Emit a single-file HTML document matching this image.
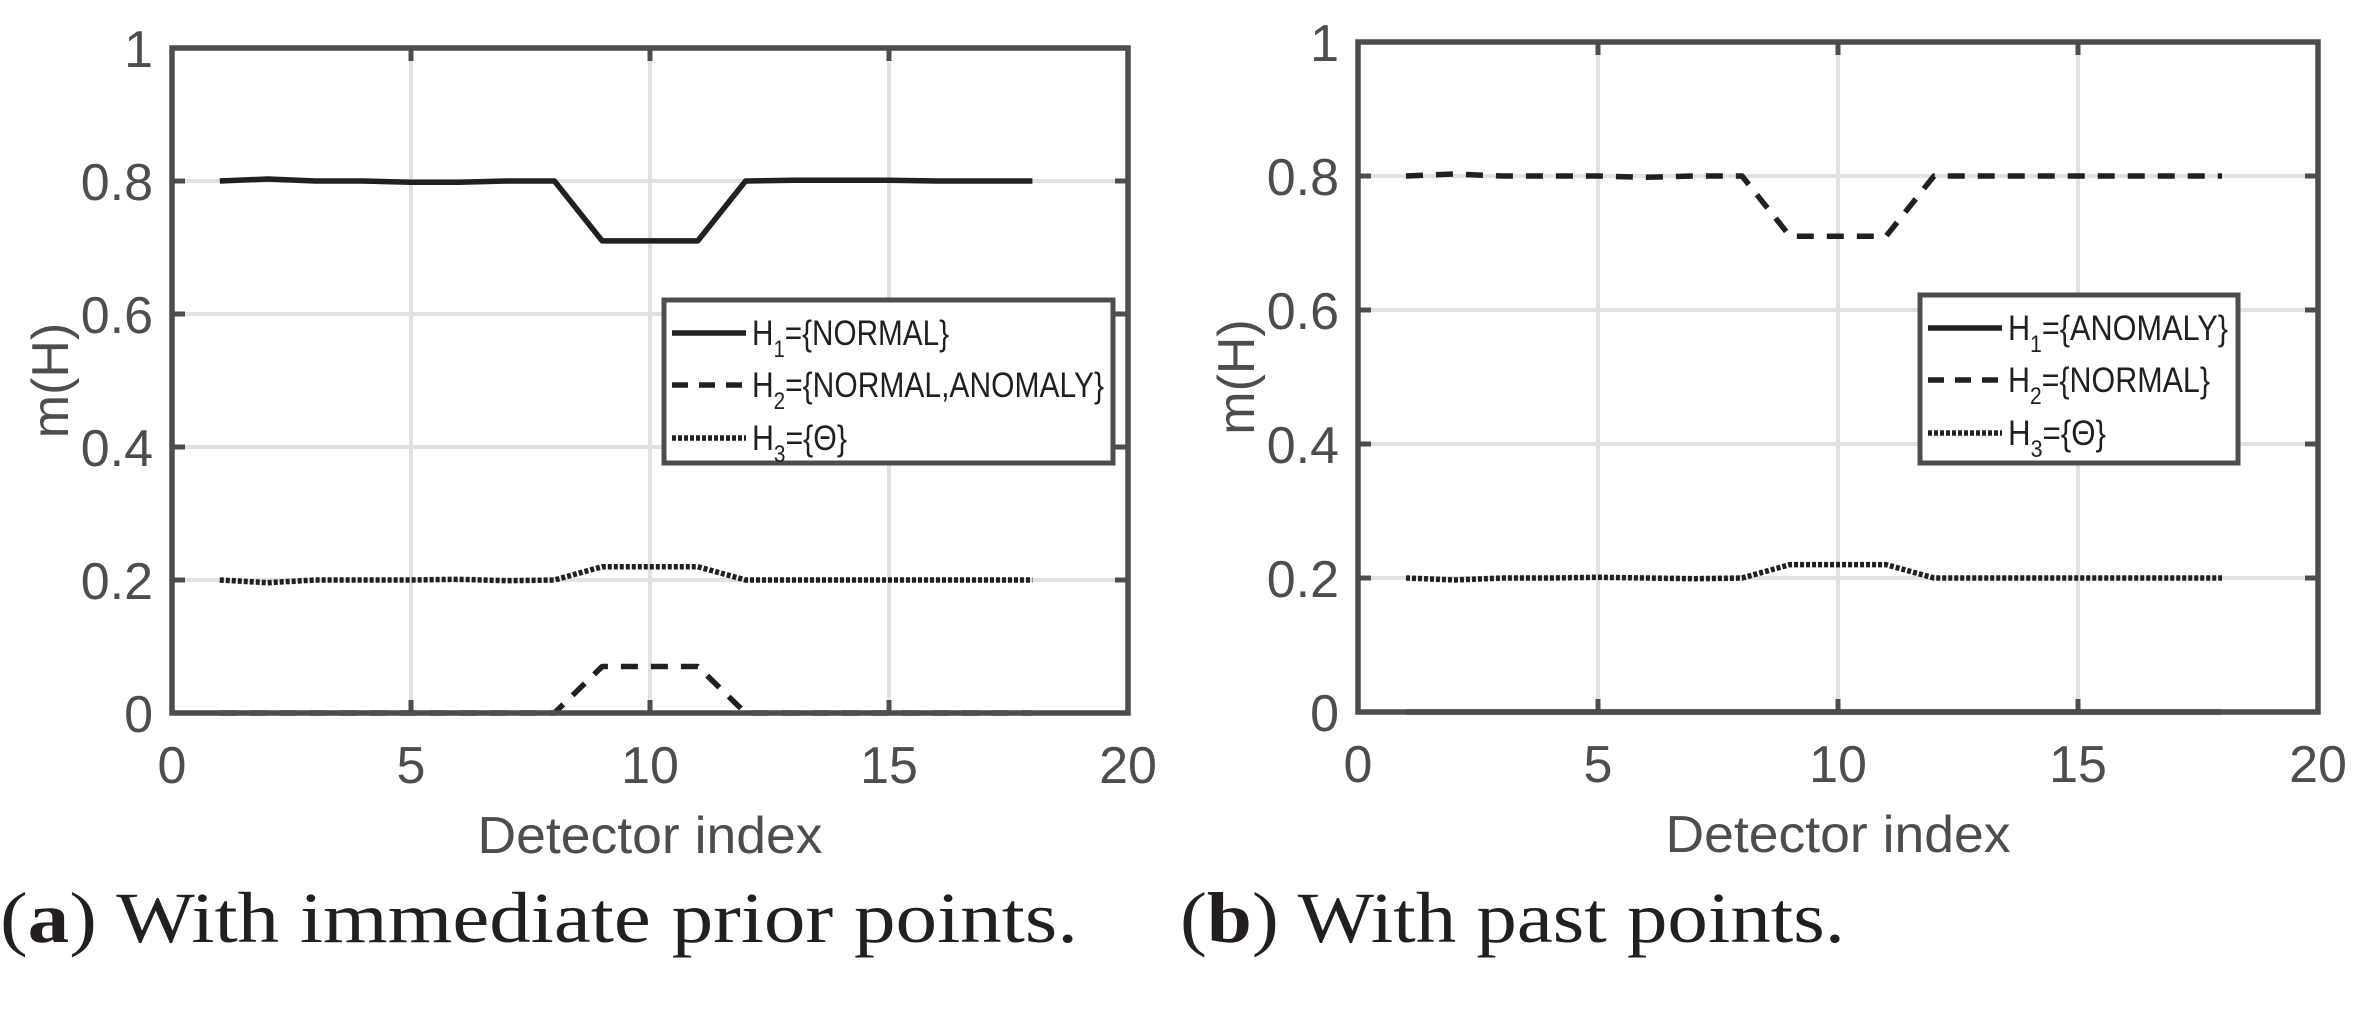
<!DOCTYPE html>
<html><head><meta charset="utf-8"><style>
html,body{margin:0;padding:0;background:#fff;}
svg{display:block;}
</style></head><body>
<svg id="fig" width="2370" height="1018" viewBox="0 0 2370 1018" xmlns="http://www.w3.org/2000/svg">
<g id="pa"></g>
<g id="pb"></g>
<text x="0" y="942" font-family="Liberation Serif, serif" font-size="72" fill="#231f20" textLength="1078" lengthAdjust="spacingAndGlyphs">(<tspan font-weight="bold">a</tspan>) With immediate prior points.</text>
<text x="1180" y="942" font-family="Liberation Serif, serif" font-size="72" fill="#231f20" textLength="665" lengthAdjust="spacingAndGlyphs">(<tspan font-weight="bold">b</tspan>) With past points.</text>
</svg>
<script>
const xIdx = [1,2,3,4,5,6,7,8,9,10,11,12,13,14,15,16,17,18];
const aH1 = [0.80,0.803,0.80,0.80,0.798,0.798,0.80,0.80,0.71,0.71,0.71,0.80,0.801,0.801,0.801,0.80,0.80,0.80];
const aH2 = [0,0,0,0,0,0,0,0,0.07,0.07,0.07,0,0,0,0,0,0,0];
const aH3 = [0.20,0.196,0.20,0.20,0.20,0.201,0.199,0.20,0.22,0.22,0.22,0.20,0.20,0.20,0.20,0.20,0.20,0.20];
const bH1 = [0,0,0,0,0,0,0,0,0,0,0,0,0,0,0,0,0,0];
const bH2 = [0.80,0.803,0.80,0.80,0.80,0.798,0.80,0.80,0.71,0.71,0.71,0.80,0.80,0.80,0.80,0.80,0.80,0.80];
const bH3 = [0.20,0.197,0.20,0.20,0.201,0.20,0.199,0.20,0.22,0.22,0.22,0.20,0.20,0.20,0.20,0.20,0.20,0.20];
const xTicks = [0,5,10,15,20];
const yTicks = [0,0.2,0.4,0.6,0.8,1];
const yTickLabels = ["0","0.2","0.4","0.6","0.8","1"];
const legendA = ["{NORMAL}","{NORMAL,ANOMALY}","{Θ}"];
const legendB = ["{ANOMALY}","{NORMAL}","{Θ}"];
const legendWidthsA = [197,352,95];
const legendWidthsB = [220,202,98];

const NS="http://www.w3.org/2000/svg";
function mk(parent,tag,attrs){const e=document.createElementNS(NS,tag);for(const k in attrs)e.setAttribute(k,attrs[k]);parent.appendChild(e);return e;}
const styles=[{dash:"none"},{dash:"17 13"},{dash:"4 2"}];

function panel(g,L,R,T,B,series,legend,lw,lg){
  const sx=v=>L+(v-0)/(20-0)*(R-L);
  const sy=v=>B-(v-0)/(1-0)*(B-T);
  xTicks.forEach(t=>{if(t>0&&t<20){const l=mk(g,'line',{x1:sx(t),x2:sx(t),y1:T,y2:B,stroke:'#e1e1e2','stroke-width':4});
    
    }});
  yTicks.forEach(t=>{if(t>0&&t<1){const l=mk(g,'line',{x1:L,x2:R,y1:sy(t),y2:sy(t),stroke:'#e1e1e2','stroke-width':4});
    
    }});
  series.forEach((s,i)=>{
    const d=xIdx.map((x,j)=>(j?'L':'M')+sx(x).toFixed(1)+' '+sy(s[j]).toFixed(1)).join(' ');
    const p=mk(g,'path',{d:d,fill:'none',stroke:'#231f20','stroke-width':5.5,'stroke-dasharray':styles[i].dash,'stroke-linejoin':'round'});
    
    
  });
  xTicks.forEach(t=>{
    [[B,B-13],[T,T+13]].forEach(([a,b])=>{const l=mk(g,'line',{x1:sx(t),x2:sx(t),y1:a,y2:b,stroke:'#4d4d4f','stroke-width':5});
      
      });
    const tx=mk(g,'text',{x:sx(t),y:B+70,'text-anchor':'middle','font-family':'Liberation Sans, sans-serif','font-size':52,fill:'#4d4d4f'});
    tx.textContent=t;
    
    
  });
  yTicks.forEach((t,i)=>{
    [[L,L+13],[R,R-13]].forEach(([a,b])=>{const l=mk(g,'line',{x1:a,x2:b,y1:sy(t),y2:sy(t),stroke:'#4d4d4f','stroke-width':5});
      
      });
    const tx=mk(g,'text',{x:L-19,y:sy(t)+19,'text-anchor':'end','font-family':'Liberation Sans, sans-serif','font-size':52,fill:'#4d4d4f'});
    tx.textContent=yTickLabels[i];
    
    
  });
  const box=mk(g,'rect',{x:L,y:T,width:R-L,height:B-T,fill:'none',stroke:'#4d4d4f','stroke-width':5.5});
  
  
  const xl=mk(g,'text',{x:(L+R)/2,y:B+140,'text-anchor':'middle','font-family':'Liberation Sans, sans-serif','font-size':52,fill:'#4d4d4f',textLength:345,lengthAdjust:'spacingAndGlyphs'});
  xl.textContent='Detector index';
  
  
  const yl=mk(g,'text',{x:0,y:0,'text-anchor':'middle','font-family':'Liberation Sans, sans-serif','font-size':52,fill:'#4d4d4f',transform:'translate('+(L-104)+','+((T+B)/2)+') rotate(-90)'});
  yl.textContent='m(H)';
  
  
  const lgG=mk(g,'g',{});
  
  
  mk(lgG,'rect',{x:lg.x,y:lg.y,width:lg.w,height:lg.h,fill:'#fff',stroke:'#4d4d4f','stroke-width':5});
  const rows=[lg.y+33,lg.y+85,lg.y+138];
  legend.forEach((txt,i)=>{
    const e=mk(lgG,'g',{});
    
    
    mk(e,'line',{x1:lg.x+8,x2:lg.x+82,y1:rows[i],y2:rows[i],stroke:'#231f20','stroke-width':5.5,'stroke-dasharray':i===0?'none':(i===1?'16 11':'4 2')});
    const t=mk(e,'text',{x:lg.x+88,y:rows[i]+12,'font-family':'Liberation Sans, sans-serif','font-size':35,fill:'#231f20',textLength:lw[i],lengthAdjust:'spacingAndGlyphs'});
    t.innerHTML='H<tspan dy="12" font-size="24">'+(i+1)+'</tspan><tspan dy="-12">='+txt+'</tspan>';
  });
}
panel(document.getElementById('pa'),172,1128,48,713,[aH1,aH2,aH3],legendA,legendWidthsA,{x:664,y:300,w:449,h:163});
panel(document.getElementById('pb'),1358,2318,42,712,[bH1,bH2,bH3],legendB,legendWidthsB,{x:1920,y:295,w:318,h:168});
</script>
</body></html>
